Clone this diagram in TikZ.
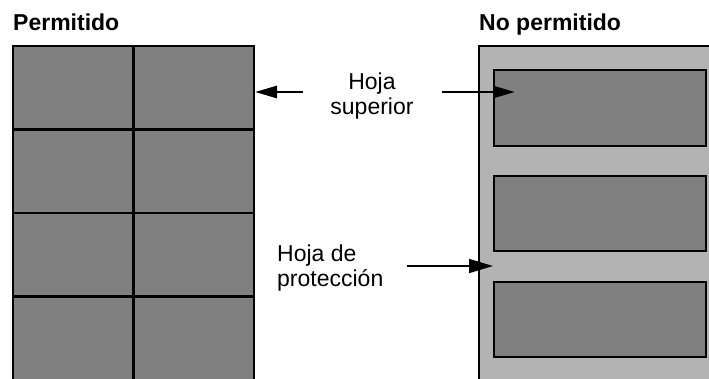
\documentclass[tikz,border=0pt]{standalone}
\usepackage{fontspec}
\setmainfont{Liberation Sans}
\definecolor{Sheet}{HTML}{808080}
\definecolor{Backing}{HTML}{B3B3B3}
\usetikzlibrary{arrows.meta,positioning}
\tikzset{
  heading/.style={anchor=base west,inner sep=0pt,font=\bfseries\fontsize{23}{25}\selectfont},
  note/.style={inner sep=0pt,font=\fontsize{23}{25}\selectfont},
  cell/.style={draw=black,fill=Sheet,line width=2.7pt},
  piece/.style={draw=black,fill=Sheet,line width=2pt},
  arrow/.style={-{Triangle[length=22pt,width=12pt]},line width=2.6pt},
  thinarrow/.style={-{Triangle[length=24pt,width=14pt]},line width=1.7pt}
}

\begin{document}
\begin{tikzpicture}[x=1pt,y=-1pt]
  \useasboundingbox (0,0) rectangle (709,378);
  \begin{scope}
    \clip (0,0) rectangle (709,378);
    % permitido: 2 x 4 sheets, no gaps
    \foreach \r in {0,...,3}
      \foreach \c in {0,1}
        \draw[cell] (13+120.5*\c,46+83.5*\r) rectangle ++(120.5,83.5);
    % no permitido: sheets with gaps on a backing sheet
    \fill[Backing] (479,45.5) rectangle (712,381);
    \draw[line width=2pt] (479,381) |- (712,45.5);
    \foreach \t/\b in {70/146,176/251,282/357}
      \draw[piece] (494,\t) rectangle (706,\b);
  \end{scope}

  \node[heading] (allowed) at (13,30) {Permitido};
  \node[heading] (banned) at (479,30) {No permitido};
  \node[note,align=center] (upper) at (372,96.5) {Hoja\\superior};
  \node[note,align=left,anchor=west] (guard) at (277,268.5) {Hoja de\\protección};

  \coordinate (upperL) at (255,92);
  \coordinate (upperR) at (515,92);
  \coordinate (guardR) at (493,266);
  \draw[arrow,shorten <=27pt] (upper.west |- upperL) -- (upperL);
  \draw[arrow,shorten <=28pt] (upper.east |- upperR) -- (upperR);
  \draw[thinarrow,shorten <=23pt] (guard.east |- guardR) -- (guardR);
\end{tikzpicture}
\end{document}
